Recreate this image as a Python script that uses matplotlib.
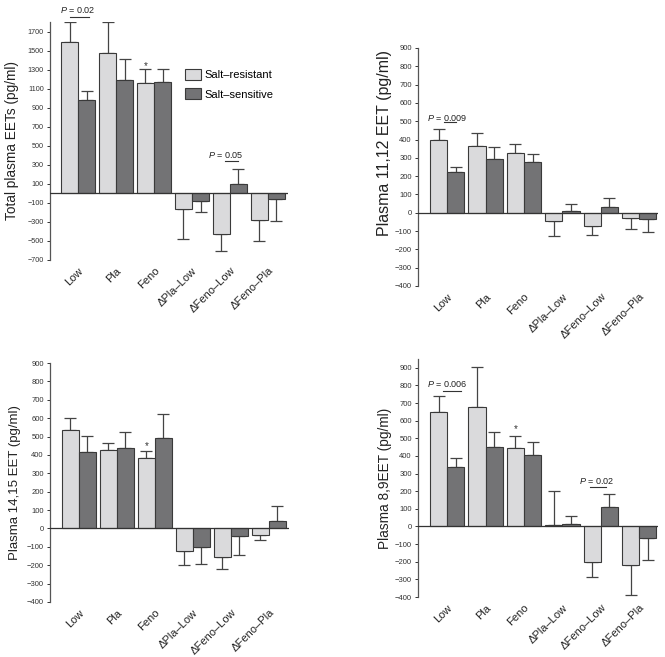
import numpy as np
import matplotlib
matplotlib.use('Agg')
import matplotlib.pyplot as plt

plt.rcParams['font.family'] = ['Liberation Sans', 'DejaVu Sans']
plt.rcParams['mathtext.fontset'] = 'custom'
plt.rcParams['mathtext.it'] = 'Liberation Sans:italic'
plt.rcParams['mathtext.rm'] = 'Liberation Sans'

# Data
groups = ['Low', 'Pla', 'Feno', '\u0394Pla\u2013Low', '\u0394Feno\u2013Low', '\u0394Feno\u2013Pla']
series = ['Salt\u2013resistant', 'Salt\u2013sensitive']

total_res = [1590, 1470, 1160, -165, -430, -280]
total_res_sem = [210, 325, 145, 310, 175, 220]
total_sen = [980, 1190, 1175, -75, 100, -60]
total_sen_sem = [100, 225, 135, 125, 160, 235]

eet1112_res = [400, 365, 325, -45, -73, -27]
eet1112_res_sem = [55, 70, 52, 80, 47, 62]
eet1112_sen = [220, 295, 275, 11, 31, -35]
eet1112_sen_sem = [30, 64, 47, 35, 51, 72]

eet1415_res = [535, 425, 382, -122, -156, -35]
eet1415_res_sem = [68, 40, 38, 76, 64, 29]
eet1415_sen = [416, 435, 491, -100, -40, 38]
eet1415_sen_sem = [88, 87, 129, 96, 107, 86]

eet89_res = [651, 677, 447, 8, -202, -219]
eet89_res_sem = [89, 229, 68, 192, 83, 172]
eet89_sen = [340, 451, 406, 13, 108, -66]
eet89_sen_sem = [47, 85, 71, 44, 77, 125]

light = '#dadadc'
dark = '#737375'
edge = '#3a3a3a'
W, H = 665, 657


def one_sided(vals, sems):
    vals = np.asarray(vals, float)
    sems = np.asarray(sems, float)
    lo = np.where(vals < 0, sems, 0)
    hi = np.where(vals >= 0, sems, 0)
    return [lo, hi]


def panel(rect, res, res_sem, sen, sen_sem, ylim, yticks, ylabel, label_size, label_y, label_x,
          xlim, tick_size):
    l, t, r, b = rect
    ax = fig.add_axes([l / W, 1 - b / H, (r - l) / W, (b - t) / H])
    x = np.arange(len(groups))
    w = 0.45
    ax.bar(x - w / 2, res, w, color=light, edgecolor=edge, linewidth=0.8, label=series[0], zorder=2)
    ax.bar(x + w / 2, sen, w, color=dark, edgecolor=edge, linewidth=0.8, label=series[1], zorder=2)
    ax.errorbar(x - w / 2, res, yerr=one_sided(res, res_sem), fmt='none', ecolor='#444444',
                elinewidth=0.9, capsize=4.5, capthick=0.9, zorder=1)
    ax.errorbar(x + w / 2, sen, yerr=one_sided(sen, sen_sem), fmt='none', ecolor='#444444',
                elinewidth=0.9, capsize=4.5, capthick=0.9, zorder=1)
    ax.axhline(0, color='#333333', lw=0.9, zorder=3)
    ax.set_xlim(*xlim)
    ax.set_ylim(*ylim)
    ax.set_yticks(yticks)
    ax.tick_params(axis='y', labelsize=tick_size, length=2.5, width=0.7, colors='#333333', pad=2)
    ax.set_xticks(x)
    ax.set_xticklabels(groups, rotation=45, ha='right', va='top', rotation_mode='anchor', fontsize=8,
                       color='#222222')
    ax.tick_params(axis='x', length=0, pad=4)
    for s in ['top', 'right', 'bottom']:
        ax.spines[s].set_visible(False)
    ax.spines['left'].set_color('#555555')
    ax.spines['left'].set_linewidth(0.9)
    ax.spines['left'].set_bounds(yticks[0], ylim[1])
    ax.set_ylabel(ylabel, fontsize=label_size, color='#222222')
    ax.yaxis.set_label_coords(label_x, label_y)
    return ax, w


def pval(ax, txt, xc, ty, x0, x1, ly):
    ax.text(xc, ty, txt, ha='center', va='center', fontsize=6.5, color='#222222', clip_on=False)
    ax.plot([x0, x1], [ly, ly], color='#333333', lw=0.8, clip_on=False)


def star(ax, xc, y):
    ax.text(xc, y, '*', ha='center', va='center', fontsize=7, color='#333333', clip_on=False)


fig = plt.figure(figsize=(6.65, 6.57), dpi=100)

ax1, w = panel((50, 22, 288, 260), total_res, total_res_sem, total_sen, total_sen_sem,
               (-700, 1800), np.arange(-700, 1701, 200), 'Total plasma EETs (pg/ml)', 9.8, 0.5, -0.13,
               (-0.74, 5.53), 5.2)
pval(ax1, '$P$ = 0.02', 0.0, 1928, -0.2, 0.3, 1851)
pval(ax1, '$P$ = 0.05', 3.9, 403, 3.86, 4.22, 340)
star(ax1, 2 - w / 2, 1335)
ax1.legend(loc='upper left', bbox_to_anchor=(185 / W, 1 - 69 / H), bbox_transform=fig.transFigure,
           frameon=False, fontsize=8, handlelength=1.4, handleheight=1.1, handletextpad=0.35,
           labelspacing=0.75, borderpad=0, borderaxespad=0)

ax2, w = panel((418, 48, 658, 286), eet1112_res, eet1112_res_sem, eet1112_sen, eet1112_sen_sem,
               (-400, 900), np.arange(-400, 901, 100), 'Plasma 11,12 EET (pg/ml)', 11.5, 0.6, -0.108,
               (-0.76, 5.49), 5.5)
pval(ax2, '$P$ = 0.009', 0.0, 519, -0.08, 0.22, 495)

ax3, w = panel((50, 363, 289, 602), eet1415_res, eet1415_res_sem, eet1415_sen, eet1415_sen_sem,
               (-400, 900), np.arange(-400, 901, 100), 'Plasma 14,15 EET (pg/ml)', 9.5, 0.5, -0.12,
               (-0.76, 5.53), 5.5)
star(ax3, 2 - w / 2, 449)

ax4, w = panel((418, 359, 658, 597), eet89_res, eet89_res_sem, eet89_sen, eet89_sen_sem,
               (-400, 950), np.arange(-400, 901, 100), 'Plasma 8,9EET (pg/ml)', 9.8, 0.5, -0.108,
               (-0.76, 5.49), 5.5)
pval(ax4, '$P$ = 0.006', 0.0, 806, -0.12, 0.35, 768)
pval(ax4, '$P$ = 0.02', 3.88, 260, 3.72, 4.13, 223)
star(ax4, 2 - w / 2, 551)

fig.savefig('out.png', dpi=100)
